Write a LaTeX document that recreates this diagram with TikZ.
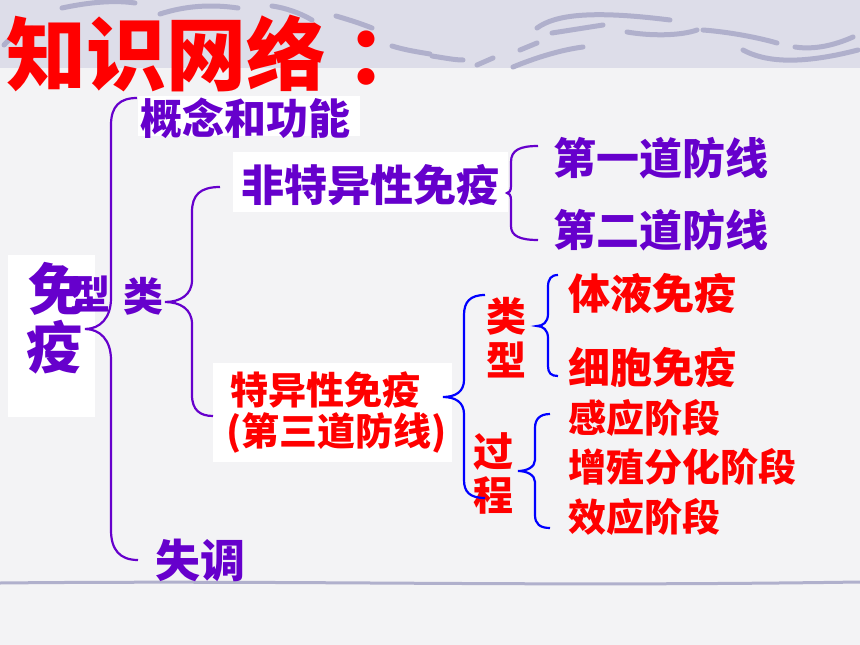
\documentclass[tikz,border=0pt]{standalone}
\usepackage{fontspec}
\newfontfamily\cjk{Noto Sans CJK SC}
\definecolor{kpurple}{RGB}{102,0,204}
\definecolor{kred}{RGB}{255,0,0}
\definecolor{kblue}{RGB}{0,0,255}
\definecolor{paper}{RGB}{243,243,245}
\definecolor{band}{RGB}{221,221,233}
\definecolor{swoosh}{RGB}{176,176,204}

\begin{document}
\begin{tikzpicture}[x=1pt, y=-1pt,
    txt/.style={font=\cjk\bfseries\fontsize{#1}{#1}\selectfont, inner sep=0pt},
    ptxt/.style={txt=#1, text=kpurple},
    rtxt/.style={txt=#1, text=kred},
    pline/.style={draw=kpurple, line width=2.2pt},
    bline/.style={draw=kblue, line width=2.2pt},
    wave/.style={draw=swoosh, line width=5pt, line cap=round}]
      \useasboundingbox (0,0) rectangle (860,645);
      \fill[paper] (0,0) rectangle (860,645);
      \fill[band] (0,0) rectangle (860,68);
      % swooshes in the top band
      \draw[wave] (4,45) .. controls (12,36) and (22,31) .. (32,28);
      \draw[wave] (62,8) .. controls (90,2) and (115,0) .. (135,3);
      \draw[wave] (160,14) .. controls (185,6) and (210,4) .. (238,8);
      \draw[wave] (272,6) .. controls (286,8) and (300,13) .. (312,20);
      \draw[wave] (336,16) .. controls (350,20) and (362,24) .. (372,28);
      \draw[wave] (392,46) .. controls (405,50) and (418,52) .. (430,54);
      \draw[wave] (432,56) .. controls (445,58) and (455,60) .. (463,60);
      \draw[wave] (477,65) -- (493,58);
      \draw[wave] (513,67) .. controls (535,58) and (560,50) .. (583,47);
      \draw[wave] (520,50) -- (537,43);
      \draw[wave] (537,28) .. controls (555,15) and (590,10) .. (670,20);
      \draw[wave] (552,33) -- (603,25);
      \draw[wave] (627,32) .. controls (650,36) and (680,36) .. (697,30);
      \draw[wave] (703,30) .. controls (730,32) and (760,38) .. (777,43);
      \draw[wave] (743,50) .. controls (765,62) and (800,65) .. (858,50);
      \draw[wave] (795,47) .. controls (815,50) and (835,45) .. (853,37);
      \draw[swoosh, line width=3pt] (0,583) .. controls (300,580) and (520,587) .. (860,582);
      % white boxes
      \fill[white] (8,255) rectangle (95,417);
      \fill[white] (138,96) rectangle (360,136);
      \fill[white] (233,152) rectangle (508,212);
      \fill[white] (213,363) rectangle (452,462);
      % texts
      \node[rtxt=80, anchor=west] (title) at (6,53) {知识网络\kern20pt：};
      \node[ptxt=56] (mian) at (56,289) {免};
      \node[ptxt=56] (yi) at (54,347) {疫};
      \node[ptxt=40] (xing) at (90,294) {型};
      \node[ptxt=40] (lei) at (143,296) {类};
      \node[ptxt=42, anchor=west] (gainian) at (140,118) {概念和功能};
      \node[ptxt=43, anchor=west] (feite) at (241,185) {非特异性免疫};
      \node[ptxt=43, anchor=west] (diyi) at (553,158) {第一道防线};
      \node[ptxt=43, anchor=west] (dier) at (553,230) {第二道防线};
      \node[rtxt=38, anchor=west] (teyi) at (230,390) {特异性免疫};
      \node[rtxt=38, anchor=west] (disan) at (226,433) {(第三道防线)};
      \node[rtxt=40] (tlei) at (506,316) {类};
      \node[rtxt=40] (txing) at (506,360) {型};
      \node[rtxt=40] (guo) at (493,452) {过};
      \node[rtxt=40] (cheng) at (493,495) {程};
      \node[rtxt=42, anchor=west] (tiye) at (568,293) {体液免疫};
      \node[rtxt=42, anchor=west] (xibao) at (568,367) {细胞免疫};
      \node[rtxt=38, anchor=west] (ganying) at (568,418) {感应阶段};
      \node[rtxt=38, anchor=west] (zengzhi) at (568,467) {增殖分化阶段};
      \node[rtxt=38, anchor=west] (xiaoying) at (568,517) {效应阶段};
      \node[ptxt=45] (shitiao) at (200,560) {失调};
      % braces
      \draw[pline] (137,98) .. controls (120,98) and (111,106) .. (111,125) -- (111,298)
            .. controls (111,318) and (100,329) .. (85,329) .. controls (100,329) and (111,340) .. (111,360)
            -- (111,530) .. controls (111,550) and (120,560) .. (138,560);
      \draw[pline] (220,187) .. controls (200,187) and (192,195) .. (192,212) -- (192,280)
            .. controls (192,295) and (180,302) .. (165,302) .. controls (180,302) and (192,309) .. (192,324)
            -- (192,395) .. controls (192,410) and (200,416) .. (213,416);
      \draw[pline] (538,146) .. controls (520,146) and (511,150) .. (511,162) -- (511,186)
            .. controls (511,191) and (509,193) .. (507,193) .. controls (509,193) and (511,195) .. (511,200)
            -- (511,226) .. controls (511,236) and (520,240) .. (538,240);
      \draw[bline] (485,295) .. controls (470,295) and (464,302) .. (464,315) -- (464,380)
            .. controls (464,392) and (455,397) .. (443,397) .. controls (455,397) and (464,402) .. (464,414)
            -- (464,480) .. controls (464,492) and (470,498) .. (485,498);
      \draw[bline] (558,275) .. controls (551,275) and (548,279) .. (548,287) -- (548,314)
            .. controls (548,322) and (543,326) .. (537,326) .. controls (543,326) and (548,330) .. (548,338)
            -- (548,366) .. controls (548,373) and (551,376) .. (558,376);
      \draw[bline] (550,414) .. controls (540,414) and (535,419) .. (535,428) -- (535,460)
            .. controls (535,467) and (527,471) .. (518,471) .. controls (527,471) and (535,475) .. (535,482)
            -- (535,515) .. controls (535,524) and (540,528) .. (550,528);
    \end{tikzpicture}
\end{document}
